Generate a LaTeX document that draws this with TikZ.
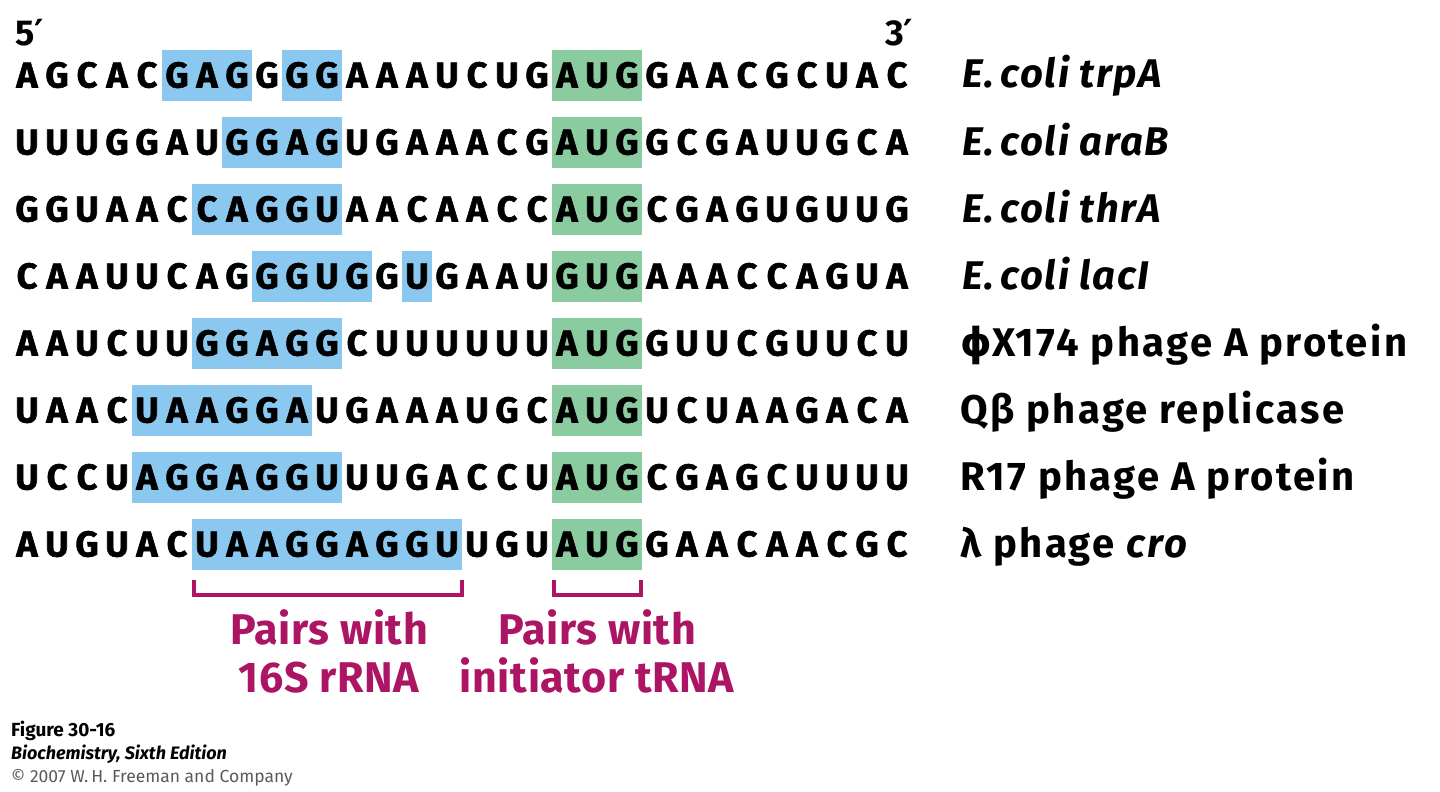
\documentclass[tikz,border=0pt]{standalone}
\usepackage{fontspec}
\setmainfont{Fira Sans}
\newfontfamily\djv{DejaVu Sans}
\definecolor{hlblue}{RGB}{138,200,240}
\definecolor{hlgreen}{RGB}{138,204,160}
\definecolor{magen}{RGB}{172,20,100}
\definecolor{footgray}{RGB}{90,90,90}
\newcommand{\seqfnt}{\fontsize{36}{36}\selectfont\bfseries\addfontfeatures{FakeBold=1.6}}
\newcommand{\labfnt}{\fontsize{40}{40}\selectfont\bfseries\addfontfeatures{LetterSpace=4}}
\newcommand{\labufnt}{\fontsize{40}{40}\selectfont\bfseries\addfontfeatures{LetterSpace=6}}
\newcommand{\notefnt}{\fontsize{43}{43}\selectfont\bfseries\addfontfeatures{LetterSpace=1.5}}
\begin{document}
\begin{tikzpicture}[x=1pt,y=-1pt,
  nt/.style={font=\seqfnt, inner sep=0pt, anchor=base},
  lab/.style={font=\labfnt, inner sep=0pt, anchor=base west},
  labu/.style={font=\labufnt, inner sep=0pt, anchor=base west},
  endmark/.style={font=\fontsize{36}{36}\selectfont\bfseries, inner sep=0pt, anchor=base west},
  note/.style={font=\notefnt, text=magen, inner sep=0pt, anchor=base},
  brk/.style={draw=magen, line width=3.5pt},
  foot/.style={inner sep=0pt, anchor=base west}]
\useasboundingbox (0,0) rectangle (1440,792);
% highlight boxes
\foreach \r/\a/\b in {0/5/7,0/9/10,1/7/10,2/6/10,3/8/11,3/13/13,4/6/10,5/4/9,6/4/10,7/6/14}
  \fill[hlblue] ({12+30*\a},{50+67*\r}) rectangle ({42+30*\b},{101+67*\r});
\foreach \r in {0,...,7}
  \fill[hlgreen] ({12+30*18},{50+67*\r}) rectangle ({42+30*20},{101+67*\r});
% sequences
\foreach \r/\s in {
 0/{A,G,C,A,C,G,A,G,G,G,G,A,A,A,U,C,U,G,A,U,G,G,A,A,C,G,C,U,A,C},
 1/{U,U,U,G,G,A,U,G,G,A,G,U,G,A,A,A,C,G,A,U,G,G,C,G,A,U,U,G,C,A},
 2/{G,G,U,A,A,C,C,A,G,G,U,A,A,C,A,A,C,C,A,U,G,C,G,A,G,U,G,U,U,G},
 3/{C,A,A,U,U,C,A,G,G,G,U,G,G,U,G,A,A,U,G,U,G,A,A,A,C,C,A,G,U,A},
 4/{A,A,U,C,U,U,G,G,A,G,G,C,U,U,U,U,U,U,A,U,G,G,U,U,C,G,U,U,C,U},
 5/{U,A,A,C,U,A,A,G,G,A,U,G,A,A,A,U,G,C,A,U,G,U,C,U,A,A,G,A,C,A},
 6/{U,C,C,U,A,G,G,A,G,G,U,U,U,G,A,C,C,U,A,U,G,C,G,A,G,C,U,U,U,U},
 7/{A,U,G,U,A,C,U,A,A,G,G,A,G,G,U,U,G,U,A,U,G,G,A,A,C,A,A,C,G,C}}
 {\foreach \c [count=\i from 0] in \s
   \node[nt] (s\r-\i) at ({27+30*\i},{87.5+67*\r}) {\c};}
% end marks
\node[endmark] (five) at (15,46) {5{\djv\bfseries ′}};
\node[endmark] (three) at (885,46) {3{\djv\bfseries ′}};
% labels
\node[lab] (l0) at (962,{88+67*0}) {\textit{E.\,coli trpA}};
\node[lab] (l1) at (962,{88+67*1}) {\textit{E.\,coli araB}};
\node[lab] (l2) at (962,{88+67*2}) {\textit{E.\,coli thrA}};
\node[lab] (l3) at (962,{88+67*3}) {\textit{E.\,coli lacI}};
\node[labu] (l4) at (960,{88+67*4}) {{\djv\bfseries ϕ}X174 phage A protein};
\node[labu] (l5) at (960,{88+67*5}) {Qβ phage replicase};
\node[labu] (l6) at (960,{88+67*6}) {R17 phage A protein};
\node[labu] (l7) at (960,{88+67*7}) {λ phage \textit{cro}};
% brackets
\coordinate (b1a) at (194,580); \coordinate (b1b) at (462,580);
\coordinate (b2a) at (554,580); \coordinate (b2b) at (641,580);
\draw[brk] (b1a) -- ++(0,15) -| (b1b);
\draw[brk] (b2a) -- ++(0,15) -| (b2b);
% notes
\node[note] (n1a) at (329,644) {Pairs with};
\node[note] (n1b) at (329,692) {16S rRNA};
\node[note] (n2a) at (597,644) {Pairs with};
\node[note] (n2b) at (597,692) {initiator tRNA};
% footer
\node[foot, font=\fontsize{19}{19}\selectfont\bfseries] (f1) at (11,736) {Figure 30-16};
\node[foot, font=\fontsize{18}{18}\selectfont\bfseries\itshape] (f2) at (11,759) {Biochemistry, Sixth Edition};
\node[foot, font=\fontsize{17.5}{17.5}\selectfont, text=footgray] (f3) at (11,782) {© 2007 W.\,H. Freeman and Company};
\end{tikzpicture}
\end{document}
